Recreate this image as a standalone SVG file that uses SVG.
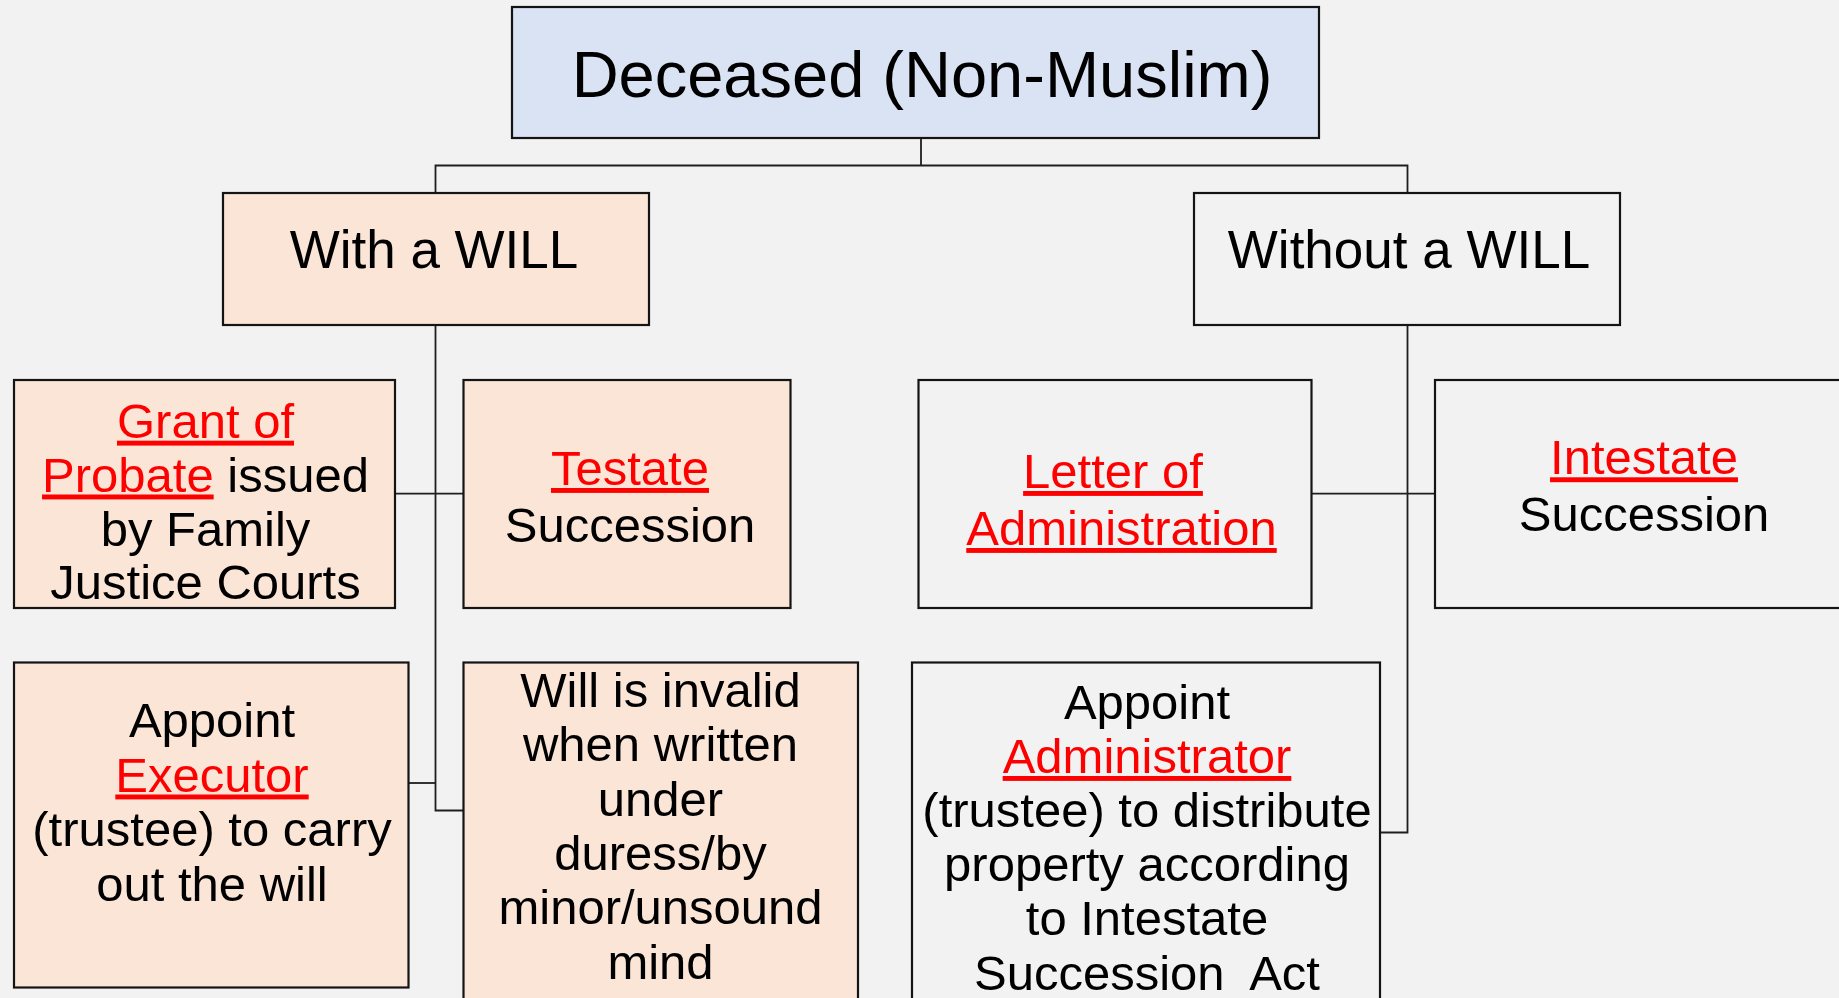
<svg xmlns="http://www.w3.org/2000/svg" width="1839" height="998" viewBox="0 0 1839 998">
  <style>
    .bg { fill: #f2f2f2; }
    .box { stroke: #141414; stroke-width: 2.2; }
    .blue { fill: #dae3f3; }
    .peach { fill: #fbe5d6; }
    .plain { fill: none; }
    .conn { fill: none; stroke: #1e1e1e; stroke-width: 1.8; }
    text { font-family: "Liberation Sans", Arial, sans-serif; fill: #000; text-anchor: middle; }
    .t65 { font-size: 65px; }
    .t52 { font-size: 53px; }
    .t48 { font-size: 49px; }
    .link { fill: #ff0000; text-decoration: underline; }
  </style>

  <rect class="bg" x="0" y="0" width="1839" height="998"/>

  <!-- connectors -->
  <g id="connectors">
    <path class="conn" d="M921 138 V165.5"/>
    <path class="conn" d="M435.5 193 V165.5 H1407.5 V193"/>
    <path class="conn" d="M435.5 325 V810.5 H463.5"/>
    <path class="conn" d="M395 493.7 H463.5"/>
    <path class="conn" d="M408.5 783 H435.5"/>
    <path class="conn" d="M1407.5 325 V832.5 H1380"/>
    <path class="conn" d="M1311.5 493.7 H1435"/>
  </g>

  <!-- root -->
  <g id="deceased">
    <rect class="box blue" x="512" y="7" width="807" height="131"/>
    <text class="t65" x="922" y="97">Deceased (Non-Muslim)</text>
  </g>

  <!-- second level -->
  <g id="with-will">
    <rect class="box peach" x="223" y="193" width="426" height="132"/>
    <text class="t52" x="434" y="268">With a WILL</text>
  </g>
  <g id="without-will">
    <rect class="box plain" x="1194" y="193" width="426" height="132"/>
    <text class="t52" x="1409" y="268">Without a WILL</text>
  </g>

  <!-- with a will branch -->
  <g id="grant-of-probate">
    <rect class="box peach" x="14" y="380" width="381" height="228"/>
    <text class="t48" x="205.5" y="437.7"><tspan class="link">Grant of</tspan></text>
    <text class="t48" x="205.5" y="491.5"><tspan class="link">Probate</tspan> issued</text>
    <text class="t48" x="205.5" y="545.5">by Family</text>
    <text class="t48" x="205.5" y="599">Justice Courts</text>
  </g>
  <g id="testate-succession">
    <rect class="box peach" x="463.5" y="380" width="327" height="228"/>
    <text class="t48" x="630" y="485"><tspan class="link">Testate</tspan></text>
    <text class="t48" x="630" y="541.7">Succession</text>
  </g>
  <g id="appoint-executor">
    <rect class="box peach" x="14" y="662.5" width="394.5" height="325"/>
    <text class="t48" x="212" y="737">Appoint</text>
    <text class="t48" x="212" y="791.5"><tspan class="link">Executor</tspan></text>
    <text class="t48" x="212" y="846">(trustee) to carry</text>
    <text class="t48" x="212" y="900.5">out the will</text>
  </g>
  <g id="will-invalid">
    <rect class="box peach" x="463.5" y="662.5" width="394.5" height="360"/>
    <text class="t48" x="660.5" y="706.7">Will is invalid</text>
    <text class="t48" x="660.5" y="761">when written</text>
    <text class="t48" x="660.5" y="815.5">under</text>
    <text class="t48" x="660.5" y="870">duress/by</text>
    <text class="t48" x="660.5" y="924">minor/unsound</text>
    <text class="t48" x="660.5" y="978.5">mind</text>
  </g>

  <!-- without a will branch -->
  <g id="letter-of-administration">
    <rect class="box plain" x="918.5" y="380" width="393" height="228"/>
    <text class="t48" x="1113" y="488"><tspan class="link">Letter of</tspan></text>
    <text class="t48" x="1121.5" y="545"><tspan class="link">Administration</tspan></text>
  </g>
  <g id="intestate-succession">
    <rect class="box plain" x="1435" y="380" width="420" height="228"/>
    <text class="t48" x="1644" y="474.3"><tspan class="link">Intestate</tspan></text>
    <text class="t48" x="1644" y="530.7">Succession</text>
  </g>
  <g id="appoint-administrator">
    <rect class="box plain" x="912" y="662.5" width="468" height="360"/>
    <text class="t48" x="1147" y="719">Appoint</text>
    <text class="t48" x="1147" y="773"><tspan class="link">Administrator</tspan></text>
    <text class="t48" x="1147" y="827">(trustee) to distribute</text>
    <text class="t48" x="1147" y="881">property according</text>
    <text class="t48" x="1147" y="935">to Intestate</text>
    <text class="t48" x="1147" y="989.5" xml:space="preserve">Succession  Act</text>
  </g>
</svg>
